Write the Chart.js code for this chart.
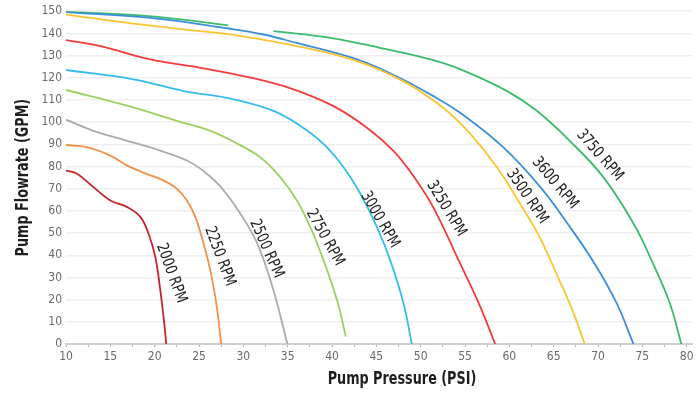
<!DOCTYPE html>
<html>
<head>
<meta charset="utf-8">
<script src="https://cdn.jsdelivr.net/npm/chart.js@4/dist/chart.umd.min.js"></script>
<style>
  html, body { margin: 0; padding: 0; background: #fff; }
  #wrap { width: 699px; height: 393px; }
</style>
</head>
<body>
<div id="wrap"><canvas id="pumpChart" width="699" height="393"></canvas></div>
<script>
// pump curves, pressure (psi) vs flowrate (gpm), one pair of arrays per speed
const rpmNames = ['2000 RPM', '2250 RPM', '2500 RPM', '2750 RPM', '3000 RPM', '3250 RPM', '3500 RPM', '3600 RPM', '3750 RPM'];

const psi2000 = [10, 11.24, 13.1, 15.0, 16.9, 18.4, 19.3, 20.07, 20.63, 21.08, 21.3];
const gpm2000 = [78.2, 76.7, 70.7, 64.7, 61.7, 57.2, 49.8, 39.3, 24.4, 9.4, 0];

const psi2250 = [10, 12.37, 15.0, 16.9, 19.1, 21.0, 22.5, 23.64, 24.6, 25.3, 26.27, 27.0, 27.5];
const gpm2250 = [89.7, 88.7, 84.9, 80.4, 76.7, 73.7, 70.0, 64.7, 57.2, 48.3, 33.3, 16.9, 0];

const psi2500 = [10, 13.1, 16.9, 20.6, 23.64, 25.5, 27.2, 28.4, 29.2, 30.8, 31.9, 33.4, 34.98];
const gpm2500 = [101.1, 96.1, 91.6, 87.2, 82.7, 78, 72, 66, 61.5, 51.3, 42.2, 24.2, 0];

const psi2750 = [10, 16.9, 22.5, 26.27, 28.7, 31.9, 34.16, 36.04, 37.54, 39.04, 40.55, 41.56];
const gpm2750 = [114.5, 107.4, 100.6, 96.1, 91.6, 84.2, 75.2, 64.7, 52.8, 37.8, 19.9, 3.4];

const psi3000 = [10, 17.6, 23.3, 28.8, 33.4, 36.4, 39.04, 41.3, 43.2, 45.06, 46.56, 48.06, 49.0];
const gpm3000 = [123.5, 119.3, 114, 110.4, 105.1, 98.4, 90.2, 79.7, 67.7, 52.8, 37.8, 18.4, 0];

const psi3250 = [10, 13.9, 19.5, 25.16, 30.8, 35.66, 40.17, 43.9, 46.9, 49.0, 51.4, 54.45, 56.7, 58.4];
const gpm3250 = [137, 134.3, 128.3, 124.5, 120.1, 114.8, 107.2, 97.6, 87.2, 76.7, 61.7, 36.3, 17, 0];

const psi3500 = [10, 17.6, 25.1, 28.9, 36.0, 42.8, 48.0, 52.5, 55.6, 58.6, 61.2, 63.4, 65.55, 67.1, 68.5];
const gpm3500 = [148.5, 144.4, 141.0, 139.3, 134.3, 127.5, 118.5, 106.6, 94.7, 79.7, 63.3, 48.3, 29.5, 15.4, 0];

const psi3600 = [10, 20, 28.3, 32.3, 36.0, 42.8, 47.2, 51.7, 54.45, 59.3, 63.5, 66.7, 69.6, 72.1, 74.0];
const gpm3600 = [149.6, 146.8, 142.2, 139.5, 135.7, 128.3, 120.8, 111.1, 104.2, 88.7, 70.7, 53.5, 36.3, 18.4, 0];

// the 3750 line has a short break in the picture around 30 psi
const psi3750 = [10, 20, 28.3, 30.8, 33.4, 39.8, 45.4, 51.1, 54.5, 59.7, 63.1, 66.8, 70.6, 74.0, 76.2, 78.1, 79.4];
const gpm3750 = [149.8, 147.6, 143.6, null, 141.0, 138.0, 133.5, 128.3, 123.8, 114.1, 105.1, 91.6, 75.2, 54.3, 36.3, 18.4, 0];

const xTicksEvery = 5;
const yTicksEvery = 10;

const allPsi = [psi2000, psi2250, psi2500, psi2750, psi3000, psi3250, psi3500, psi3600, psi3750];
const allGpm = [gpm2000, gpm2250, gpm2500, gpm2750, gpm3000, gpm3250, gpm3500, gpm3600, gpm3750];

const lineColors = ['#c1272d', '#f3904b', '#ababab', '#9dd062', '#36bcee', '#f23c3c', '#f9c530', '#3c8fd8', '#3dbb6c'];

// where each speed label sits (psi, gpm) and its tilt in degrees
const labelSpots = [
    [21.87, 31.9, 70], [27.35, 39.5, 69.5], [32.6, 43.0, 66], [39.2, 48.0, 61],
    [45.4, 56.0, 60], [52.9, 61.0, 59], [62.0, 66.5, 56], [65.15, 72.5, 50], [70.2, 85.0, 49]
];

const narrow = "'Liberation Sans Narrow', 'Arial Narrow', 'DejaVu Sans Condensed', sans-serif";

const datasets = allPsi.map((xs, i) => ({
    label: rpmNames[i],
    data: xs.map((x, j) => ({ x: x, y: allGpm[i][j] })),
    borderColor: lineColors[i],
    borderWidth: 1.8,
    pointRadius: 0,
    fill: false,
    spanGaps: false,
    tension: 0.4
}));

// speed labels along the curves, and the two axis titles (squeezed like the original's condensed face)
const extrasPlugin = {
    id: 'extras',
    afterDatasetsDraw(chart) {
        const ctx = chart.ctx;
        const xs = chart.scales.x, ys = chart.scales.y;
        ctx.save();
        ctx.fillStyle = '#222';
        ctx.font = '16px ' + narrow;
        ctx.textAlign = 'center';
        ctx.textBaseline = 'middle';
        labelSpots.forEach((s, i) => {
            ctx.save();
            ctx.translate(xs.getPixelForValue(s[0]), ys.getPixelForValue(s[1]));
            ctx.rotate(s[2] * Math.PI / 180);
            ctx.scale(0.86, 1);
            ctx.fillText(rpmNames[i], 0, 0);
            ctx.restore();
        });
        ctx.restore();
    },
    afterDraw(chart) {
        const ctx = chart.ctx;
        const area = chart.chartArea;
        ctx.save();
        ctx.fillStyle = '#1e1e1e';
        ctx.font = 'bold 18px ' + narrow;
        ctx.textAlign = 'center';
        ctx.textBaseline = 'middle';
        ctx.save();
        ctx.translate(402, 379);
        ctx.scale(0.79, 1);
        ctx.fillText('Pump Pressure (PSI)', 0, 0);
        ctx.restore();
        ctx.translate(23, (area.top + area.bottom) / 2);
        ctx.rotate(-Math.PI / 2);
        ctx.scale(0.79, 1);
        ctx.fillText('Pump Flowrate (GPM)', 0, 0);
        ctx.restore();
    }
};

new Chart(document.getElementById('pumpChart'), {
    type: 'line',
    data: { datasets: datasets },
    plugins: [extrasPlugin],
    options: {
        responsive: false,
        animation: false,
        devicePixelRatio: 1,
        layout: { padding: { top: 9, right: 7, left: 0, bottom: 0 } },
        plugins: { legend: { display: false }, tooltip: { enabled: false } },
        scales: {
            x: {
                type: 'linear',
                min: 10,
                max: 80.6,
                afterFit: s => { s.height = 49; },
                ticks: {
                    stepSize: xTicksEvery / 2,
                    includeBounds: false,
                    autoSkip: false,
                    maxRotation: 0,
                    padding: 3,
                    color: '#6a6a6a',
                    font: { family: narrow, size: 12 },
                    callback: v => (v % xTicksEvery === 0 ? v : '')
                },
                grid: { drawOnChartArea: false, drawTicks: true, tickLength: 3, color: '#b5b5b5' },
                border: { color: '#cfcfcf', width: 2 }
            },
            y: {
                min: 0,
                max: 150,
                afterFit: s => { s.width = 66; },
                ticks: {
                    stepSize: yTicksEvery,
                    padding: 4,
                    color: '#6a6a6a',
                    font: { family: narrow, size: 12 }
                },
                grid: { color: '#efefef', lineWidth: 1.5, drawTicks: false },
                border: { display: false }
            }
        }
    }
});
</script>
</body>
</html>
